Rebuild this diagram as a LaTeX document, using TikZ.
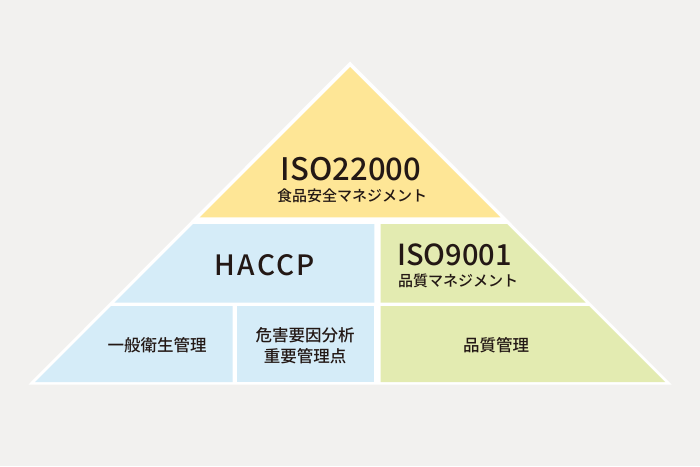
\documentclass[tikz,border=0pt]{standalone}
\usepackage{fontspec}
\setmainfont{Noto Sans CJK JP}[UprightFont={* Medium}, BoldFont={* Bold}]
\newfontfamily\jpwide{Noto Sans CJK JP}[UprightFont={* Medium}, BoldFont={* Bold}, LetterSpace=8]
\usepackage{tikz}
\usetikzlibrary{positioning}
\definecolor{bg}{RGB}{242,241,239}
\definecolor{isoyellow}{RGB}{254,230,150}
\definecolor{haccpblue}{RGB}{213,236,248}
\definecolor{isogreen}{RGB}{227,235,177}
\definecolor{ink}{RGB}{35,24,21}

\begin{document}
\begin{tikzpicture}[
    x=1pt, y=-1pt,
    title/.style={text=ink, inner sep=0pt, font=\fontsize{31}{31}\selectfont},
    sub/.style={text=ink, inner sep=0pt, font=\fontsize{15}{15}\selectfont},
    item/.style={text=ink, inner sep=0pt, align=center, font=\fontsize{16.5}{21}\selectfont}
]
    % Hintergrund
    \fill[bg] (0,0) rectangle (700,466);
    \useasboundingbox (0,0) rectangle (700,466);
    \fill[white] (350,61.5) -- (28.5,384.5) -- (671.5,384.5) -- cycle;

    % Felder
    \fill[isoyellow] (350,67) -- (199.7,217.3) -- (500.3,217.3) -- cycle;
    \fill[haccpblue] (193,224) -- (374.3,224) -- (374.3,302.7) -- (114.3,302.7) -- cycle;
    \fill[isogreen] (380.7,224) -- (507,224) -- (585.7,302.7) -- (380.7,302.7) -- cycle;
    \fill[haccpblue] (111,306) -- (232.7,306) -- (232.7,382) -- (35,382) -- cycle;
    \fill[haccpblue] (236.7,306) -- (374.3,306) -- (374.3,382) -- (236.7,382) -- cycle;
    \fill[isogreen] (380.7,306) -- (589,306) -- (665,382) -- (380.7,382) -- cycle;

    % Texte
    \node[title] (iso22000) at (351,169) {ISO22000};
    \node[sub] (food) at (352,196) {食品安全マネジメント};
    \node[title, font=\jpwide\fontsize{28}{28}\selectfont] (haccp) at (265,265) {HACCP};
    \node[title, anchor=west, font=\fontsize{29}{29}\selectfont] (iso9001) at (397,255) {ISO9001};
    \node[sub, anchor=west] (quality) at (398,281) {品質マネジメント};
    \node[item] (hygiene) at (157,345) {一般衛生管理};
    \node[item] (hazard) at (305,346) {危害要因分析\\重要管理点};
    \node[item] (qc) at (496,345) {品質管理};
\end{tikzpicture}
\end{document}
